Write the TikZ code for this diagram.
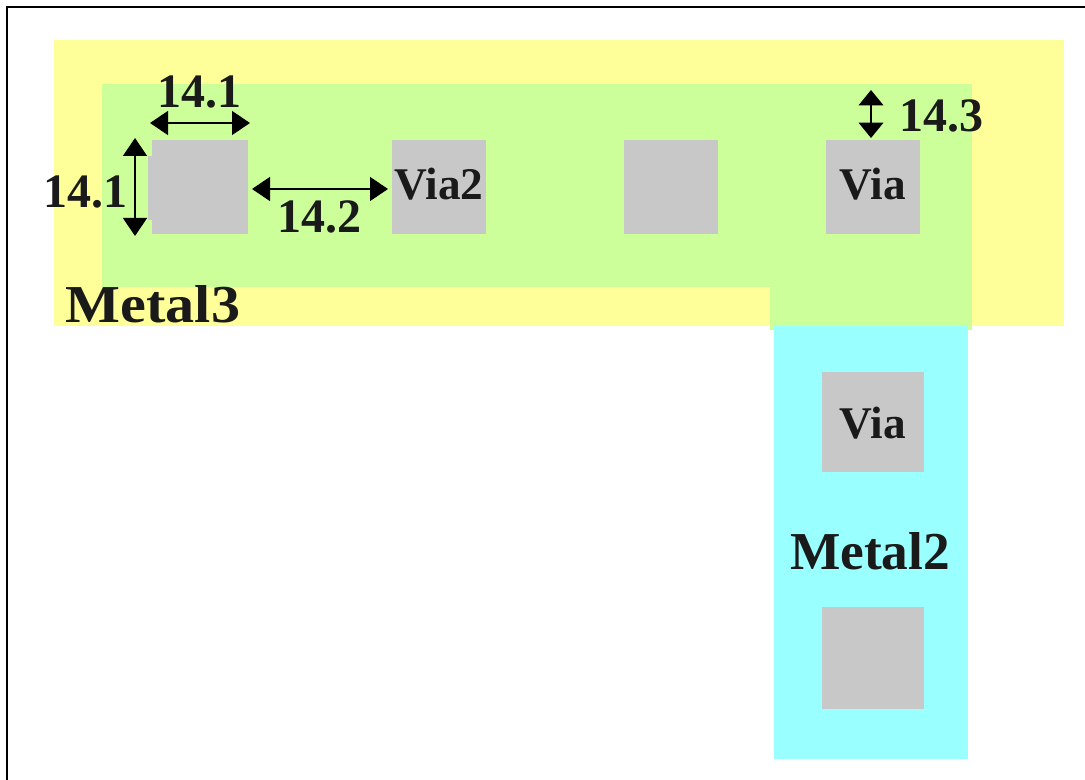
\documentclass[tikz,border=0pt]{standalone}
\usepackage{fontspec}
\setmainfont{Liberation Serif}
\usetikzlibrary{arrows.meta}
\definecolor{metalthree}{HTML}{FFFF99}
\definecolor{overlapc}{HTML}{CCFF99}
\definecolor{metaltwo}{HTML}{99FFFF}
\definecolor{viagrey}{HTML}{C8C8C8}
\definecolor{inkc}{HTML}{1A1A1A}
\tikzset{
  layer/.style={inner sep=0pt,outer sep=0pt,draw=none},
  dimlabel/.style={inner sep=0pt,text=inkc,font=\fontsize{36}{36}\selectfont\bfseries},
  biglabel/.style={inner sep=0pt,text=inkc,font=\fontsize{40}{40}\selectfont\bfseries},
  vialabel/.style={inner sep=0pt,text=inkc,font=\fontsize{34}{34}\selectfont\bfseries},
  dimline/.style={line width=1.05pt,black,{Triangle[length=13.5pt,width=18pt]}-{Triangle[length=13.5pt,width=18pt]}},
  shortdim/.style={line width=1.05pt,black,{Triangle[length=11.5pt,width=18.5pt]}-{Triangle[length=11.5pt,width=18.5pt]}}
}
\newcommand{\boxat}[6]{\node[layer,fill=#2,anchor=north west,minimum width=#5*0.75pt-#3*0.75pt,minimum height=#6*0.75pt-#4*0.75pt] (#1) at (#3,#4) {};}
\begin{document}
\begin{tikzpicture}[x=0.75pt,y=-0.75pt]
\useasboundingbox (0,0) rectangle (1085,780);
\fill[white] (0,0) rectangle (1085,780);
\draw[line width=1.5pt,black] (7,780) -- (7,7) -- (1085,7);
\boxat{mthree}{metalthree}{54}{40}{1064}{326}
\boxat{mtwo}{metaltwo}{774}{326}{968}{759}
\boxat{ovh}{overlapc}{102}{84}{972}{287}
\boxat{ovv}{overlapc}{770}{84}{972}{330}
\boxat{mtwocover}{metaltwo}{774}{326}{968}{330}
\boxat{va}{viagrey}{152}{140}{248}{234}
\boxat{vabump}{viagrey}{148}{156}{152}{220}
\boxat{vb}{viagrey}{392}{140}{486}{234}
\boxat{vc}{viagrey}{624}{140}{718}{234}
\boxat{vd}{viagrey}{826}{140}{920}{234}
\boxat{ve}{viagrey}{822}{372}{924}{472}
\boxat{vf}{viagrey}{822}{607}{924}{709}
\node[dimlabel] (ltop) at (199,92) {14.1};
\node[dimlabel] (lleft) at (85,192) {14.1};
\node[dimlabel] (lmid) at (319,217) {14.2};
\node[dimlabel] (lright) at (941,116) {14.3};
\node[vialabel] (lviab) at (439,184) {Via2};
\node[vialabel] (lviad) at (873,184) {Via};
\node[vialabel] (lviae) at (873,423) {Via};
\node[biglabel] (lmthree) at (153,304) {\scalebox{1.09}[1]{Metal3}};
\node[biglabel] (lmtwo) at (870,551) {Metal2};
\coordinate (a1) at (150,123); \coordinate (a2) at (250,123);
\coordinate (b1) at (135,138); \coordinate (b2) at (135,236);
\coordinate (c1) at (252,189); \coordinate (c2) at (388,189);
\coordinate (d1) at (871,90);  \coordinate (d2) at (871,138);
\draw[dimline] (a1) -- (a2);
\draw[dimline] (b1) -- (b2);
\draw[dimline] (c1) -- (c2);
\draw[shortdim] (d1) -- (d2);
\end{tikzpicture}
\end{document}
